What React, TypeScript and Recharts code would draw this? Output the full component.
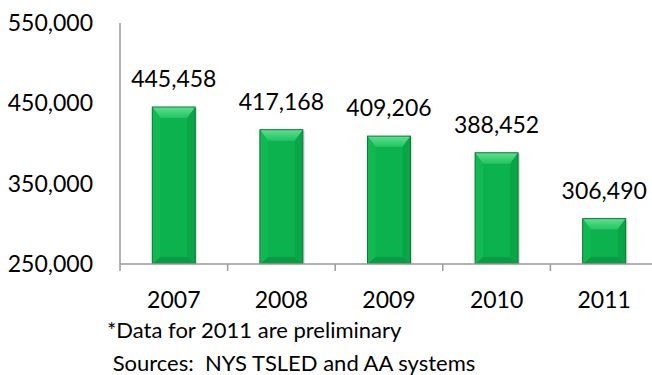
import React from "react";
import { BarChart, Bar, XAxis, YAxis, LabelList } from "recharts";

const years = ["2007", "2008", "2009", "2010", "2011"];
const counts = [445458, 417168, 409206, 388452, 306490];
const yTicks = [250000, 350000, 450000, 550000];
const footnotes = ["*Data for 2011 are preliminary", " Sources:  NYS TSLED and AA systems"];

const data = years.map((y, i) => ({ year: y, value: counts[i] }));

const FONT = "Lato, 'Open Sans', sans-serif";
const fmt = (v: number) => v.toLocaleString("en-US");

const BevelBar = (props: any) => {
  const { x, y, width: w, height: h } = props;
  if (!w || !h || h <= 0) return null;
  const bs = Math.min(8, w / 4);
  const bt = Math.min(11, h / 3);
  const bb = Math.min(7, h / 4);
  return (
    <g>
      <rect x={x + 2} y={y + 1} width={w} height={h} fill="rgba(0,0,0,0.12)" />
      <rect x={x} y={y} width={w} height={h} fill="#0cb24d" />
      <polygon
        points={`${x},${y} ${x + w},${y} ${x + w - bs},${y + bt} ${x + bs},${y + bt}`}
        fill="url(#bevelTop)"
      />
      <polygon
        points={`${x},${y + h} ${x + w},${y + h} ${x + w - bs},${y + h - bb} ${x + bs},${y + h - bb}`}
        fill="#0a9c43"
      />
      <polygon
        points={`${x},${y} ${x + bs},${y + bt} ${x + bs},${y + h - bb} ${x},${y + h}`}
        fill="#12b953"
      />
      <polygon
        points={`${x + w},${y} ${x + w - bs},${y + bt} ${x + w - bs},${y + h - bb} ${x + w},${y + h}`}
        fill="#0aa546"
      />
      <rect x={x} y={y} width={w} height={h} fill="none" stroke="#0b7a37" strokeWidth={1} />
    </g>
  );
};

const XTick = (props: any) => {
  const { x, y, payload } = props;
  const off = payload && payload.offset ? payload.offset : 0;
  return (
    <g>
      <line x1={x - off} y1={y} x2={x - off} y2={y + 7} stroke="#9a9a9a" strokeWidth={1.5} />
      <text x={x} y={y + 44} textAnchor="middle" fill="#000" fontSize={23} fontFamily={FONT}>
        {payload.value}
      </text>
    </g>
  );
};

export default function App() {
  return (
    <div
      style={{
        position: "absolute",
        left: 0,
        top: 0,
        width: 652,
        height: 375,
        overflow: "hidden",
        background: "#fff",
        fontFamily: FONT,
      }}
    >
      <svg width={0} height={0} style={{ position: "absolute" }}>
        <defs>
          <linearGradient id="bevelTop" x1="0" y1="0" x2="0" y2="1">
            <stop offset="0%" stopColor="#5fe08f" />
            <stop offset="100%" stopColor="#22c262" />
          </linearGradient>
        </defs>
      </svg>
      <BarChart
        width={660}
        height={375}
        data={data}
        margin={{ top: 23, right: 2, bottom: 65, left: 0 }}
        barCategoryGap="30%"
      >
        <YAxis
          type="number"
          domain={[250000, 550000]}
          ticks={yTicks}
          tickFormatter={fmt}
          width={120}
          tickLine={false}
          tickSize={0}
          tickMargin={27}
          axisLine={{ stroke: "#9a9a9a", strokeWidth: 1.5 }}
          tick={{ fill: "#000", fontSize: 23, fontFamily: FONT }}
          interval={0}
          allowDataOverflow
        />
        <XAxis
          dataKey="year"
          height={46}
          tickLine={false}
          tickSize={0}
          tickMargin={0}
          axisLine={{ stroke: "#9a9a9a", strokeWidth: 1.5 }}
          tick={<XTick />}
          interval={0}
        />
        <Bar dataKey="value" isAnimationActive={false} shape={<BevelBar />}>
          <LabelList
            dataKey="value"
            position="top"
            offset={20}
            formatter={(v: any) => fmt(Number(v))}
            style={{ fill: "#000", fontSize: 23, fontFamily: FONT }}
          />
        </Bar>
      </BarChart>
      {footnotes.map((t, i) => (
        <div
          key={i}
          style={{
            position: "absolute",
            left: 107,
            top: 317 + i * 33,
            fontSize: 22,
            lineHeight: "26px",
            whiteSpace: "pre",
            color: "#000",
          }}
        >
          {t}
        </div>
      ))}
    </div>
  );
}
